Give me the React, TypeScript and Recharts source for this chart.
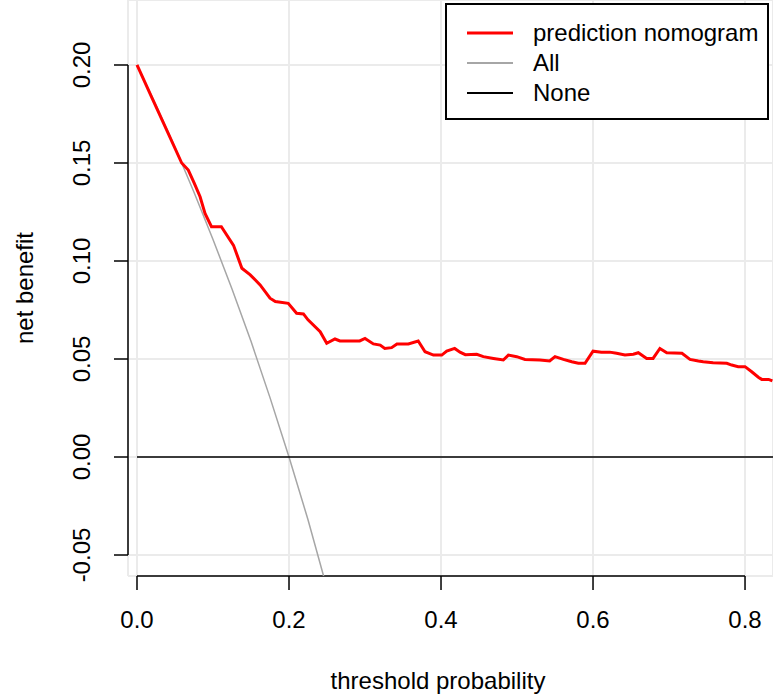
import React from "react";
import { LineChart, Line, XAxis, YAxis, CartesianGrid, Legend, ReferenceLine } from "recharts";

const FONT = '"Liberation Sans", Arial, sans-serif';

// threshold probability / net benefit
const nomogramThreshold = [
  0, 0.02, 0.04, 0.0588, 0.0675, 0.075, 0.083, 0.0895, 0.098, 0.111, 0.127, 0.138, 0.149, 0.162,
  0.175, 0.182, 0.199, 0.21, 0.219, 0.225, 0.241, 0.2496, 0.2605, 0.267, 0.293, 0.3, 0.311, 0.32,
  0.326, 0.335, 0.342, 0.357, 0.37, 0.379, 0.39, 0.401, 0.4075, 0.418, 0.425, 0.432, 0.447, 0.4557,
  0.469, 0.482, 0.4886, 0.4996, 0.5105, 0.53, 0.543, 0.55, 0.561, 0.572, 0.5807, 0.5895, 0.6, 0.611,
  0.622, 0.631, 0.642, 0.653, 0.6596, 0.6706, 0.679, 0.688, 0.697, 0.717, 0.7276, 0.7386, 0.745,
  0.758, 0.776, 0.7825, 0.791, 0.8, 0.8088, 0.8175, 0.822, 0.831, 0.836,
];
const nomogramBenefit = [
  0.2, 0.183, 0.166, 0.15, 0.1464, 0.14, 0.1328, 0.1243, 0.1175, 0.1175, 0.108, 0.0963, 0.0929, 0.0878,
  0.081, 0.0793, 0.0784, 0.0733, 0.073, 0.07, 0.0639, 0.058, 0.0602, 0.0592, 0.0592, 0.0605, 0.0577, 0.0571,
  0.0554, 0.0558, 0.0577, 0.0577, 0.0592, 0.0537, 0.052, 0.052, 0.054, 0.0554, 0.0535, 0.0522, 0.0524, 0.0512,
  0.0503, 0.0495, 0.052, 0.0512, 0.0498, 0.0495, 0.049, 0.0512, 0.0498, 0.0486, 0.0478, 0.0478, 0.054, 0.0534,
  0.0535, 0.0529, 0.052, 0.0524, 0.0532, 0.0503, 0.0503, 0.0554, 0.0532, 0.0529, 0.0498, 0.049, 0.0486,
  0.0481, 0.0478, 0.0469, 0.0461, 0.0461, 0.0435, 0.0407, 0.0396, 0.0396, 0.0388,
];

const allThreshold = [0, 0.025, 0.05, 0.075, 0.1, 0.125, 0.15, 0.175, 0.2, 0.225, 0.25];
const allBenefit = [0.2, 0.1795, 0.158, 0.1351, 0.111, 0.0857, 0.059, 0.0303, 0, -0.032, -0.067];

const noneThreshold = [0, 0.84];
const noneBenefit = [0, 0];

const xTicks = [0, 0.2, 0.4, 0.6, 0.8];
const yTicks = [-0.05, 0, 0.05, 0.1, 0.15, 0.2];
const seriesNames = ["prediction nomogram", "All", "None"];

const X_MIN = -0.01184;
const X_MAX = 0.8368;
const Y_MIN = -0.06071;
const Y_MAX = 0.23316;

const toPoints = (xs: number[], ys: number[]) => xs.map((x, i) => ({ x, y: ys[i] }));

const XTick = ({ x, payload }: any) => (
  <text x={x} y={628} textAnchor="middle" fontSize={24} fontFamily={FONT} fill="#000">
    {payload.value.toFixed(1)}
  </text>
);

const YTick = ({ y, payload }: any) => (
  <text
    x={90}
    y={y}
    transform={`rotate(-90, 90, ${y})`}
    textAnchor="middle"
    fontSize={24}
    fontFamily={FONT}
    fill="#000"
  >
    {payload.value.toFixed(2)}
  </text>
);

const XTitle = () => (
  <text x={438} y={689} textAnchor="middle" fontSize={24} fontFamily={FONT} fill="#000">
    threshold probability
  </text>
);

const YTitle = () => (
  <text x={33} y={288} transform="rotate(-90, 33, 288)" textAnchor="middle" fontSize={24} fontFamily={FONT} fill="#000">
    net benefit
  </text>
);

const renderLegend = ({ payload }: any) => {
  const items = [...(payload || [])].sort(
    (a: any, b: any) => seriesNames.indexOf(a.value) - seriesNames.indexOf(b.value)
  );
  return (
    <div style={{ width: 324, height: 117, border: "2px solid #000", boxSizing: "border-box", background: "#fff" }}>
      <svg width={320} height={113} style={{ display: "block" }}>
        {items.map((item: any, i: number) => {
          const cy = 28 + i * 30;
          return (
            <g key={item.value}>
              <line x1={20} x2={66} y1={cy} y2={cy} stroke={item.color} strokeWidth={i === 0 ? 3 : 2} />
              <text x={86} y={cy + 8} fontSize={24} fontFamily={FONT} fill="#000">
                {item.value}
              </text>
            </g>
          );
        })}
      </svg>
    </div>
  );
};

export default function App() {
  return (
    <div style={{ position: "absolute", left: 0, top: 0, background: "#fff" }}>
      <LineChart width={773} height={696} margin={{ top: 0, right: 0, bottom: 0, left: 0 }}>
        <CartesianGrid stroke="#ebebeb" strokeWidth={2} />
        <XAxis
          type="number"
          dataKey="x"
          domain={[X_MIN, X_MAX]}
          ticks={xTicks}
          allowDataOverflow
          height={120}
          axisLine={false}
          stroke="#000"
          tickLine={{ stroke: "#000", strokeWidth: 1.5 }}
          tickSize={14}
          tick={<XTick />}
          label={XTitle}
        />
        <YAxis
          type="number"
          dataKey="y"
          domain={[Y_MIN, Y_MAX]}
          ticks={yTicks}
          allowDataOverflow
          width={128}
          axisLine={false}
          stroke="#000"
          tickLine={{ stroke: "#000", strokeWidth: 1.5 }}
          tickSize={14}
          tick={<YTick />}
          label={YTitle}
        />
        <ReferenceLine
          segment={[{ x: 0, y: Y_MIN }, { x: 0.8, y: Y_MIN }]}
          stroke="#000"
          strokeWidth={1.5}
          ifOverflow="visible"
        />
        <ReferenceLine
          segment={[{ x: X_MIN, y: -0.05 }, { x: X_MIN, y: 0.2 }]}
          stroke="#000"
          strokeWidth={1.5}
          ifOverflow="visible"
        />
        <Line
          data={toPoints(allThreshold, allBenefit)}
          dataKey="y"
          name="All"
          stroke="#a6a6a6"
          strokeWidth={1.5}
          dot={false}
          isAnimationActive={false}
        />
        <Line
          data={toPoints(noneThreshold, noneBenefit)}
          dataKey="y"
          name="None"
          stroke="#000"
          strokeWidth={1.5}
          dot={false}
          isAnimationActive={false}
        />
        <Line
          data={toPoints(nomogramThreshold, nomogramBenefit)}
          dataKey="y"
          name="prediction nomogram"
          stroke="#ff0000"
          strokeWidth={3}
          dot={false}
          isAnimationActive={false}
        />
        <Legend
          layout="vertical"
          align="center"
          verticalAlign="middle"
          content={renderLegend}
          wrapperStyle={{ left: 445, top: 3, width: 324, height: 117 }}
        />
      </LineChart>
    </div>
  );
}
